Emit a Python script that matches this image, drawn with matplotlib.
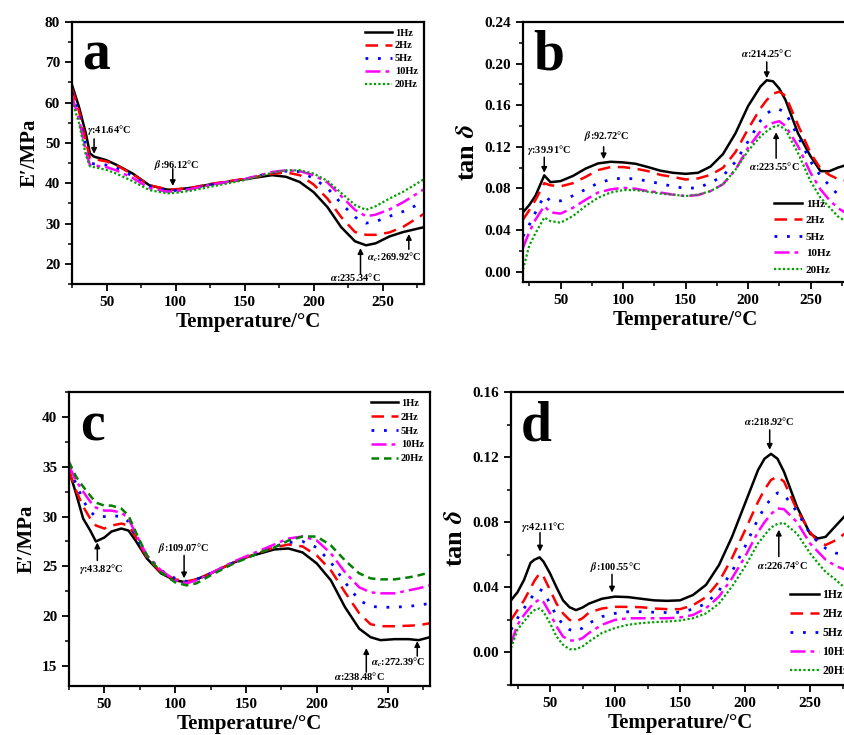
import matplotlib
matplotlib.use('Agg')
import matplotlib.pyplot as plt
from matplotlib.ticker import MultipleLocator, FormatStrFormatter

plt.rcParams['font.family'] = ['Liberation Serif', 'DejaVu Serif']
plt.rcParams['font.weight'] = 'bold'
plt.rcParams['mathtext.fontset'] = 'stix'

labels = ['1Hz', '2Hz', '5Hz', '10Hz', '20Hz']

# ---- panel a: storage modulus, sample 1
T_a = [25, 30, 35, 38, 41, 50, 57, 69, 81, 94, 100, 112, 125, 150, 170, 180, 190, 200, 210, 220, 230, 238, 245, 255, 265, 280]
a_1hz = [64.4, 59, 52.4, 47.4, 46.6, 45.7, 44.6, 42.4, 39.5, 38.4, 38.4, 38.9, 39.7, 41, 42, 41.6, 40.3, 37.8, 34.1, 29.1, 25.6, 24.6, 25.1, 26.8, 27.9, 29.1]
a_2hz = [63.5, 58, 50.5, 46.2, 46, 45.4, 44.5, 42.2, 39.5, 38.5, 38.5, 38.9, 39.8, 41.1, 42.3, 42.7, 42.0, 39.7, 36.2, 31.6, 27.9, 27.2, 27.2, 27.8, 29.2, 32.4]
a_5hz = [62.5, 57, 49, 45, 44.8, 44.5, 43.8, 41.8, 39.2, 38.2, 38.2, 38.7, 39.6, 41.0, 42.6, 43, 42.9, 41.2, 38.8, 35, 31.6, 30.1, 30.5, 31.8, 33, 35.4]
a_10hz = [61.5, 56, 48, 44.5, 44.4, 44.0, 43.2, 41.3, 38.8, 37.9, 38.0, 38.6, 39.6, 41.0, 42.8, 43.2, 43.0, 42.0, 40.2, 36.8, 33.4, 31.8, 32.2, 33.5, 35.3, 38.5]
a_20hz = [60.5, 55, 47, 44.2, 44, 43.3, 42.4, 40.5, 38.3, 37.5, 37.6, 38.2, 39.1, 40.8, 42.6, 43.2, 43.2, 42.4, 40.6, 37.6, 34.6, 33.4, 34.3, 36.2, 37.9, 41]

# ---- panel b: tan delta, sample 1
T_b = [20, 25, 30, 37, 42, 50, 60, 70, 80, 90, 100, 110, 120, 130, 140, 150, 160, 170, 180, 190, 200, 210, 215, 220, 225, 230, 240, 250, 258, 265, 272, 280]
b_1hz = [0.057, 0.064, 0.073, 0.0925, 0.086, 0.087, 0.092, 0.099, 0.104, 0.1056, 0.105, 0.1037, 0.1005, 0.097, 0.095, 0.094, 0.095, 0.101, 0.113, 0.133, 0.159, 0.178, 0.184, 0.183, 0.176, 0.165, 0.133, 0.111, 0.0966, 0.0965, 0.1, 0.103]
b_2hz = [0.05, 0.059, 0.069, 0.085, 0.083, 0.082, 0.085, 0.091, 0.0976, 0.1005, 0.1005, 0.099, 0.0966, 0.093, 0.091, 0.0886, 0.0896, 0.093, 0.0998, 0.115, 0.137, 0.157, 0.165, 0.171, 0.173, 0.169, 0.141, 0.114, 0.099, 0.093, 0.089, 0.087]
b_5hz = [0.034, 0.045, 0.057, 0.073, 0.068, 0.068, 0.073, 0.079, 0.085, 0.0886, 0.090, 0.089, 0.087, 0.0845, 0.082, 0.080, 0.0806, 0.0854, 0.092, 0.1056, 0.125, 0.145, 0.152, 0.156, 0.156, 0.153, 0.130, 0.106, 0.092, 0.083, 0.074, 0.069]
b_10hz = [0.023, 0.038, 0.050, 0.063, 0.057, 0.0557, 0.0614, 0.069, 0.076, 0.079, 0.0806, 0.0797, 0.0774, 0.076, 0.074, 0.0726, 0.0736, 0.0774, 0.084, 0.098, 0.119, 0.135, 0.140, 0.143, 0.1446, 0.140, 0.1206, 0.095, 0.079, 0.069, 0.061, 0.055]
b_20hz = [0.002, 0.025, 0.037, 0.052, 0.0486, 0.047, 0.0534, 0.063, 0.071, 0.076, 0.0784, 0.0784, 0.0768, 0.075, 0.074, 0.0726, 0.074, 0.0774, 0.084, 0.098, 0.116, 0.130, 0.135, 0.139, 0.1405, 0.1366, 0.114, 0.087, 0.071, 0.062, 0.053, 0.047]

# ---- panel c: storage modulus, sample 2
T_c = [25, 30, 35, 40, 44, 50, 55, 62, 67, 72, 80, 90, 100, 108, 115, 125, 140, 150, 160, 170, 180, 190, 200, 210, 220, 230, 238, 245, 255, 265, 272, 280]
c_1hz = [34.6, 32.3, 29.8, 28.6, 27.5, 27.9, 28.5, 28.8, 28.6, 27.6, 25.8, 24.3, 23.6, 23.4, 23.7, 24.3, 25.3, 25.9, 26.3, 26.7, 26.8, 26.4, 25.3, 23.6, 20.9, 18.75, 17.9, 17.6, 17.7, 17.7, 17.6, 17.9]
c_2hz = [34.6, 32.6, 31, 29.8, 29.1, 28.8, 29.1, 29.3, 29.1, 28, 25.9, 24.4, 23.7, 23.5, 23.7, 24.3, 25.3, 25.9, 26.4, 26.9, 27.2, 27, 26.1, 24.6, 22.4, 20.3, 19.2, 19.0, 19.0, 19.05, 19.1, 19.3]
c_5hz = [34.8, 33.3, 31.6, 30.5, 30.0, 30, 30.1, 30, 29.5, 28.1, 26.1, 24.6, 23.8, 23.5, 23.7, 24.3, 25.3, 25.9, 26.5, 27, 27.4, 27.5, 26.9, 25.4, 23.4, 21.6, 21.0, 20.9, 20.9, 21, 21.1, 21.3]
c_10hz = [35.1, 33.6, 32.5, 31.5, 30.9, 30.6, 30.6, 30.4, 29.8, 28.3, 26.1, 24.6, 23.6, 23.3, 23.6, 24.3, 25.4, 26, 26.6, 27.2, 27.8, 28, 27.6, 26.3, 24.4, 22.9, 22.4, 22.3, 22.3, 22.6, 22.8, 23.1]
c_20hz = [35.5, 34, 33, 32.1, 31.4, 31.1, 31.1, 30.8, 30.1, 28.5, 26.1, 24.4, 23.4, 23.1, 23.3, 24.1, 25.2, 25.8, 26.4, 26.9, 27.6, 28, 28, 27.1, 25.6, 24.3, 23.8, 23.7, 23.7, 23.9, 24.1, 24.4]

# ---- panel d: tan delta, sample 2
T_d = [20, 25, 30, 35, 38, 42, 45, 50, 55, 60, 65, 70, 75, 80, 90, 100, 110, 120, 130, 140, 150, 160, 170, 180, 190, 200, 210, 215, 220, 225, 230, 240, 250, 256, 262, 270, 280]
d_1hz = [0.032, 0.037, 0.0445, 0.055, 0.057, 0.0584, 0.0558, 0.0486, 0.040, 0.032, 0.0278, 0.026, 0.0276, 0.030, 0.033, 0.0343, 0.034, 0.033, 0.032, 0.0317, 0.032, 0.0353, 0.0415, 0.0537, 0.071, 0.0915, 0.112, 0.119, 0.122, 0.119, 0.111, 0.0895, 0.073, 0.070, 0.071, 0.078, 0.0865]
d_2hz = [0.020, 0.026, 0.032, 0.0394, 0.044, 0.0486, 0.0466, 0.0384, 0.030, 0.024, 0.020, 0.019, 0.021, 0.0245, 0.027, 0.028, 0.028, 0.0278, 0.027, 0.0266, 0.0266, 0.029, 0.034, 0.0435, 0.058, 0.075, 0.0925, 0.100, 0.106, 0.108, 0.105, 0.0875, 0.074, 0.068, 0.066, 0.069, 0.075]
d_5hz = [0.014, 0.021, 0.027, 0.033, 0.036, 0.0388, 0.0374, 0.030, 0.0225, 0.017, 0.014, 0.0129, 0.015, 0.018, 0.022, 0.024, 0.025, 0.025, 0.0247, 0.0245, 0.0247, 0.0266, 0.030, 0.038, 0.0497, 0.065, 0.082, 0.089, 0.0946, 0.098, 0.097, 0.0864, 0.073, 0.068, 0.064, 0.061, 0.060]
d_10hz = [0.0057, 0.017, 0.023, 0.028, 0.0305, 0.0327, 0.031, 0.024, 0.016, 0.0098, 0.0074, 0.0072, 0.0088, 0.012, 0.017, 0.020, 0.021, 0.021, 0.021, 0.021, 0.0215, 0.023, 0.0272, 0.0343, 0.0456, 0.0588, 0.074, 0.080, 0.085, 0.0885, 0.088, 0.080, 0.067, 0.062, 0.057, 0.053, 0.050]
d_20hz = [0.0027, 0.014, 0.019, 0.024, 0.026, 0.027, 0.025, 0.018, 0.0098, 0.0047, 0.002, 0.002, 0.0037, 0.0067, 0.012, 0.015, 0.017, 0.018, 0.0186, 0.019, 0.0196, 0.021, 0.024, 0.030, 0.0405, 0.0527, 0.067, 0.072, 0.0768, 0.079, 0.0795, 0.073, 0.061, 0.055, 0.0495, 0.0445, 0.0374]

fig = plt.figure(figsize=(8.44, 7.35), dpi=100)
W, H = 844, 735

def box(l, t, r, b):
    return [l / W, 1 - b / H, (r - l) / W, (b - t) / H]

styles = [dict(color='black', ls='-', lw=1.8),
          dict(color='#ff0000', ls=(0, (5, 3)), lw=1.8),
          dict(color='#0000ff', ls=(0, (1, 3.5)), lw=2.0),
          dict(color='#ff00ff', ls=(0, (6, 2, 1.5, 2)), lw=1.8),
          dict(color='#00a000', ls=(0, (1, 1)), lw=1.6)]

def setup(ax, xlim, ylim, ymaj, ymin, letter, ylabel, yfmt=None, ylsize=15):
    ax.set_xlim(*xlim)
    ax.set_ylim(*ylim)
    ax.xaxis.set_major_locator(MultipleLocator(50))
    ax.xaxis.set_minor_locator(MultipleLocator(25))
    ax.yaxis.set_major_locator(MultipleLocator(ymaj))
    ax.yaxis.set_minor_locator(MultipleLocator(ymin))
    if yfmt:
        ax.yaxis.set_major_formatter(FormatStrFormatter(yfmt))
    ax.tick_params(which='major', direction='out', length=5, width=1.3, labelsize=11)
    ax.tick_params(which='minor', direction='out', length=3, width=1.1)
    for s in ax.spines.values():
        s.set_linewidth(1.6)
    ax.set_xlabel('Temperature/°C', fontsize=15, fontweight='bold', labelpad=2)
    ax.set_ylabel(ylabel, fontsize=ylsize, fontweight='bold', labelpad=4)
    ax.text(0.03, 0.97, letter, transform=ax.transAxes, fontsize=40,
            fontweight='bold', va='top', ha='left')

def mark(ax, txt, tx, ty, x, y0, y1, ha='center'):
    ax.text(tx, ty, txt, fontsize=7.5, fontweight='bold', ha=ha, va='center')
    ax.annotate('', xy=(x, y1), xytext=(x, y0),
                arrowprops=dict(arrowstyle='-|>', color='black', lw=1.1,
                                mutation_scale=8, shrinkA=0, shrinkB=0))

# panel a
ax = fig.add_axes(box(72, 22, 424, 284))
for vals, st, lab in zip([a_1hz, a_2hz, a_5hz, a_10hz, a_20hz], styles, labels):
    ax.plot(T_a, vals, label=lab, **st)
setup(ax, (25, 280), (15, 80), 10, 5, 'a', 'E′/MPa')
mark(ax, r'$\gamma$:41.64°C', 52, 53.3, 41, 51, 47.3)
mark(ax, r'$\beta$:96.12°C', 101, 44.6, 98, 43.6, 39.3)
mark(ax, r'$\alpha$:235.34°C', 230, 16.7, 234, 17.4, 23.9)
mark(ax, r'$\alpha_c$:269.92°C', 239, 21.6, 269, 23.6, 27.4, ha='left')
ax.legend(loc='upper right', bbox_to_anchor=(1.0, 1.0), frameon=False,
          fontsize=7.5, handlelength=2.6, labelspacing=0.35, handletextpad=0.3,
          borderaxespad=0.2)

# panel b
ax = fig.add_axes(box(523, 22, 848, 282))
for vals, st, lab in zip([b_1hz, b_2hz, b_5hz, b_10hz, b_20hz], styles, labels):
    ax.plot(T_b, vals, label=lab, **st)
setup(ax, (20, 280), (-0.01, 0.24), 0.04, 0.02, 'b', r'tan $\boldsymbol{\delta}$', '%.2f', 19)
mark(ax, r'$\gamma$:39.91°C', 41, 0.117, 37, 0.110, 0.095)
mark(ax, r'$\beta$:92.72°C', 87, 0.130, 84.5, 0.120, 0.108)
mark(ax, r'$\alpha$:214.25°C', 214.5, 0.210, 215, 0.2016, 0.186)
mark(ax, r'$\alpha$:223.55°C', 221, 0.102, 222.5, 0.109, 0.134)
ax.legend(loc='lower left', bbox_to_anchor=(0.74, -0.01), frameon=False,
          fontsize=8, handlelength=2.6, labelspacing=0.6, handletextpad=0.3)

# panel c
styles_c = styles[:4] + [dict(color='#008000', ls=(0, (3, 2)), lw=1.8)]
ax = fig.add_axes(box(69, 392, 430, 686))
for vals, st, lab in zip([c_1hz, c_2hz, c_5hz, c_10hz, c_20hz], styles_c, labels):
    ax.plot(T_c, vals, label=lab, **st)
setup(ax, (25, 280), (13, 42.5), 5, 2.5, 'c', 'E′/MPa')
mark(ax, r'$\gamma$:43.82°C', 48, 24.7, 45, 25.6, 27.4)
mark(ax, r'$\beta$:109.07°C', 106, 26.85, 106.3, 26.1, 23.8)
mark(ax, r'$\alpha$:238.48°C', 230, 14.0, 235, 14.4, 16.8)
mark(ax, r'$\alpha_c$:272.39°C', 238.5, 15.4, 271, 16.0, 17.5, ha='left')
ax.legend(loc='upper right', bbox_to_anchor=(1.0, 1.0), frameon=False,
          fontsize=7.5, handlelength=2.6, labelspacing=0.45, handletextpad=0.3,
          borderaxespad=0.2)

# panel d
ax = fig.add_axes(box(511, 392, 849, 685))
for vals, st, lab in zip([d_1hz, d_2hz, d_5hz, d_10hz, d_20hz], styles, labels):
    ax.plot(T_d, vals, label=lab, **st)
setup(ax, (20, 280), (-0.02, 0.16), 0.04, 0.02, 'd', r'tan $\boldsymbol{\delta}$', '%.2f', 19)
mark(ax, r'$\gamma$:42.11°C', 44.6, 0.0773, 42.3, 0.0736, 0.062)
mark(ax, r'$\beta$:100.55°C', 100, 0.0527, 97.7, 0.048, 0.0368)
mark(ax, r'$\alpha$:218.92°C', 218.5, 0.142, 219, 0.1367, 0.1245)
mark(ax, r'$\alpha$:226.74°C', 228.5, 0.054, 226, 0.0589, 0.0754)
ax.legend(loc='lower left', bbox_to_anchor=(0.795, -0.01), frameon=False,
          fontsize=8.5, handlelength=2.4, labelspacing=0.6, handletextpad=0.3)

fig.savefig('out.png', dpi=100, facecolor='white')
